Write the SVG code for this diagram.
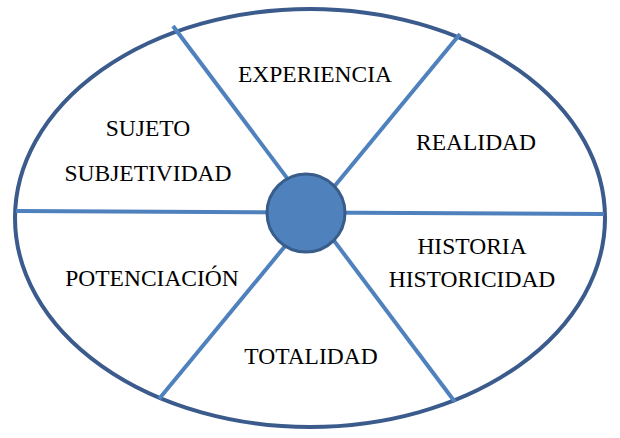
<svg xmlns="http://www.w3.org/2000/svg" width="620" height="438" viewBox="0 0 620 438">
<style>
.t{font-family:"Liberation Serif",serif;font-size:23.5px;fill:#000;text-anchor:middle}
.c{stroke:#4f81bd;stroke-width:4;fill:none}
</style>
<rect width="620" height="438" fill="#fff"/>
<g id="outer"><ellipse cx="310" cy="218" rx="295" ry="209" fill="#fff" stroke="#3b5b8c" stroke-width="4"/></g>
<g id="connectors">
<line class="c" x1="173" y1="26" x2="455" y2="402"/>
<line class="c" x1="460" y1="34" x2="159" y2="399"/>
<line class="c" x1="16" y1="211" x2="604" y2="214"/>
</g>
<g id="center"><circle cx="306" cy="213" r="39" fill="#4f81bd" stroke="#385d8a" stroke-width="3"/></g>
<g id="experiencia"><text class="t" x="315" y="82">EXPERIENCIA</text></g>
<g id="sujeto"><text class="t" x="148" y="136">SUJETO</text><text class="t" x="148" y="181">SUBJETIVIDAD</text></g>
<g id="realidad"><text class="t" x="476" y="150">REALIDAD</text></g>
<g id="historia"><text class="t" x="472" y="254">HISTORIA</text><text class="t" x="472" y="287">HISTORICIDAD</text></g>
<g id="potenciacion"><text class="t" x="152" y="286">POTENCIACIÓN</text></g>
<g id="totalidad"><text class="t" x="311" y="364">TOTALIDAD</text></g>
</svg>
